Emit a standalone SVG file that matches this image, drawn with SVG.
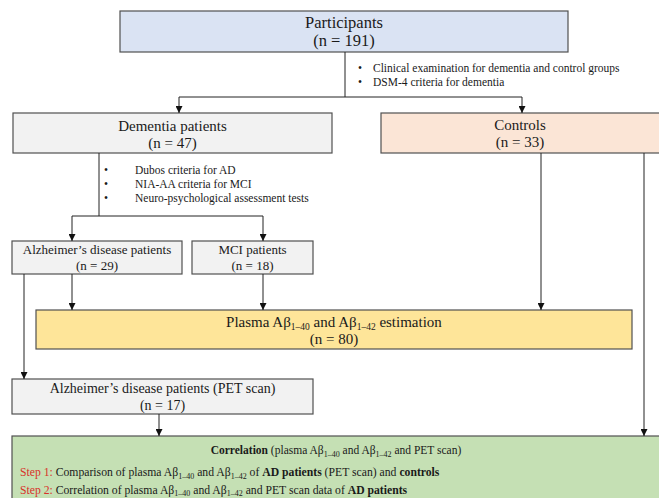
<svg xmlns="http://www.w3.org/2000/svg" width="659" height="498" viewBox="0 0 659 498">
<defs>
<marker id="ah" viewBox="0 0 8 8" refX="8" refY="4" markerWidth="7" markerHeight="7" markerUnits="userSpaceOnUse" orient="auto">
<path d="M0 0 L8 4 L0 8 Z" fill="#111"/>
</marker>
<style>
.box{stroke:#505050;stroke-width:1.2}
.t{font-family:"Liberation Serif","Times New Roman",serif;fill:#1a1a1a}
.c{text-anchor:middle}
.conn path{fill:none;stroke:#222;stroke-width:1}
.arr{marker-end:url(#ah)}
.red{fill:#d9302a}
</style>
</defs>
<rect width="659" height="498" fill="#fff"/>

<g id="participants">
<rect class="box" x="120" y="11" width="448" height="41" fill="#dae3f3"/>
<text class="t c" x="344" y="28" font-size="16.5">Participants</text>
<text class="t c" x="344" y="46" font-size="16.5">(n = 191)</text>
</g>

<g id="criteria1" class="t" font-size="11.5">
<text x="358" y="72">•</text><text x="373" y="72">Clinical examination for dementia and control groups</text>
<text x="358" y="86">•</text><text x="373" y="86">DSM-4 criteria for dementia</text>
</g>

<g id="dementia">
<rect class="box" x="13" y="113" width="319" height="40" fill="#f2f2f2"/>
<text class="t c" x="172.5" y="131" font-size="15">Dementia patients</text>
<text class="t c" x="172.5" y="148" font-size="15">(n = 47)</text>
</g>

<g id="controls">
<rect class="box" x="381" y="113" width="290" height="40" fill="#fbe5d6"/>
<text class="t c" x="520" y="130" font-size="15">Controls</text>
<text class="t c" x="520" y="147" font-size="15">(n = 33)</text>
</g>

<g id="criteria2" class="t" font-size="11.5">
<text x="104" y="174">•</text><text x="135" y="174">Dubos criteria for AD</text>
<text x="104" y="188">•</text><text x="135" y="188">NIA-AA criteria for MCI</text>
<text x="104" y="202">•</text><text x="135" y="202">Neuro-psychological assessment tests</text>
</g>

<g id="ad">
<rect class="box" x="12" y="241" width="170" height="33" fill="#f2f2f2"/>
<text class="t c" x="97" y="254" font-size="13">Alzheimer’s disease patients</text>
<text class="t c" x="97" y="270" font-size="13">(n = 29)</text>
</g>

<g id="mci">
<rect class="box" x="192" y="241" width="121" height="33" fill="#f2f2f2"/>
<text class="t c" x="252.5" y="254" font-size="13">MCI patients</text>
<text class="t c" x="252.5" y="270" font-size="13">(n = 18)</text>
</g>

<g id="plasma">
<rect class="box" x="36" y="310" width="596" height="39" fill="#fee599"/>
<text class="t c" x="334" y="327" font-size="15">Plasma Aβ<tspan font-size="9.5" dy="3">1–40</tspan><tspan dy="-3"> and Aβ</tspan><tspan font-size="9.5" dy="3">1–42</tspan><tspan dy="-3"> estimation</tspan></text>
<text class="t c" x="334" y="344" font-size="15">(n = 80)</text>
</g>

<g id="adpet">
<rect class="box" x="12" y="379" width="301" height="35" fill="#f2f2f2"/>
<text class="t c" x="162.5" y="393" font-size="14">Alzheimer’s disease patients (PET scan)</text>
<text class="t c" x="162.5" y="410" font-size="14">(n = 17)</text>
</g>

<g id="correlation">
<rect class="box" x="12" y="436" width="660" height="80" fill="#c5e0b4"/>
<text class="t c" x="336" y="454" font-size="11.5"><tspan font-weight="bold">Correlation</tspan> (plasma Aβ<tspan font-size="8" dy="2.5">1–40</tspan><tspan dy="-2.5"> and Aβ</tspan><tspan font-size="8" dy="2.5">1–42</tspan><tspan dy="-2.5"> and PET scan)</tspan></text>
<text class="t" x="20" y="476" font-size="11.7"><tspan class="red">Step 1:</tspan> Comparison of plasma Aβ<tspan font-size="8" dy="2.5">1–40</tspan><tspan dy="-2.5"> and Aβ</tspan><tspan font-size="8" dy="2.5">1–42</tspan><tspan dy="-2.5">  of </tspan><tspan font-weight="bold">AD patients</tspan> (PET scan) and <tspan font-weight="bold">controls</tspan></text>
<text class="t" x="20" y="494" font-size="11.7"><tspan class="red">Step 2:</tspan> Correlation of plasma Aβ<tspan font-size="8" dy="2">1–40</tspan><tspan dy="-2"> and Aβ</tspan><tspan font-size="8" dy="2">1–42</tspan><tspan dy="-2">  and PET scan data of </tspan><tspan font-weight="bold">AD patients</tspan></text>
</g>

<g id="connectors" class="conn">
<path d="M345 52 V97"/>
<path d="M179 97 H522"/>
<path class="arr" d="M179 97 V113"/>
<path class="arr" d="M522 97 V113"/>
<path d="M99 153 V216"/>
<path d="M72 216 H263"/>
<path class="arr" d="M72 216 V241"/>
<path class="arr" d="M263 216 V241"/>
<path class="arr" d="M72 274 V310"/>
<path class="arr" d="M263 274 V310"/>
<path class="arr" d="M541 153 V310"/>
<path class="arr" d="M24 274 V379"/>
<path class="arr" d="M159 414 V436"/>
<path class="arr" d="M644 153 V436"/>
</g>
</svg>
